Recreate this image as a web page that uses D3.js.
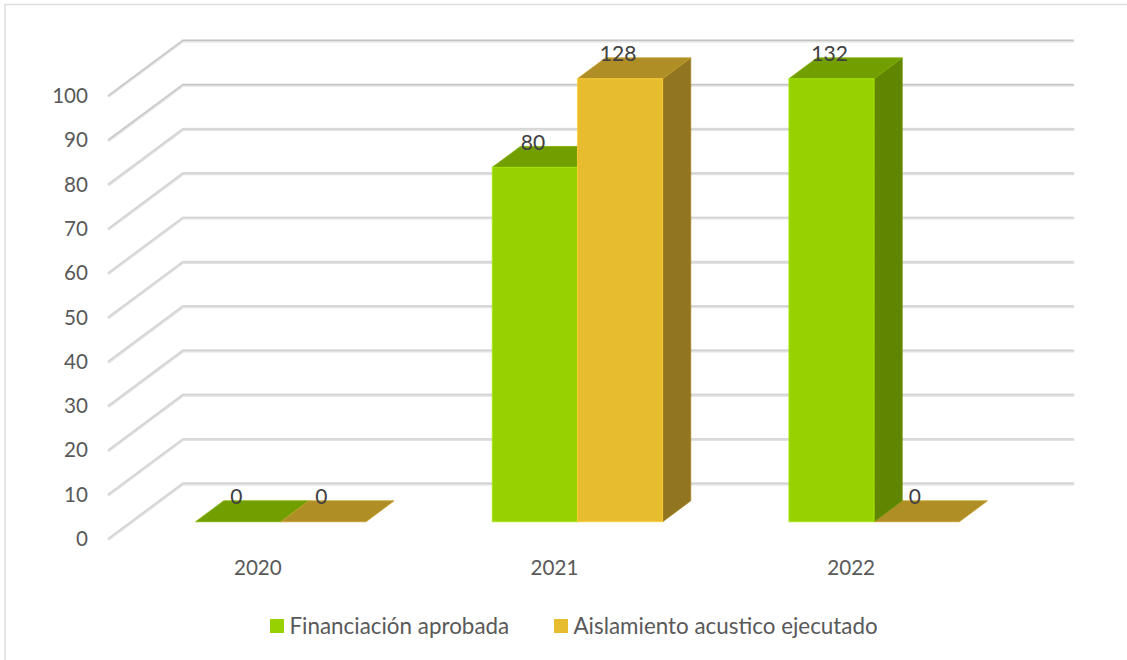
<!DOCTYPE html>
<meta charset="utf-8">
<head>
  <title>Financiacion y aislamiento</title>
</head>

<style>
body { margin: 0; background: #fff; }
text { font-family: Lato, "Open Sans", sans-serif; fill: #595959; }
.grid { fill: none; stroke-linecap: round; }
</style>

<body>
  <svg width="1127" height="660"></svg>

  <script src="https://cdnjs.cloudflare.com/ajax/libs/d3/7.8.5/d3.min.js"></script>

  <script>
var categories = ['2020', '2021', '2022'];
var seriesNames = ['Financiación aprobada', 'Aislamiento acustico ejecutado'];
var financiacion = [0, 80, 132];
var aislamiento = [0, 128, 0];
var yTicks = d3.range(0, 101, 10);

// front, top, side
var greens = ['#97d200', '#729e00', '#608500'];
var golds = ['#e8bc2f', '#b08e26', '#917520'];

var svg = d3.select('svg');

// frame, only top and left are visible in the picture
svg.append('path')
  .attr('d', 'M5,660V4.5H1127')
  .attr('fill', 'none').attr('stroke', '#dedede').attr('stroke-width', 1.5);

// front plane of the chart, depth is added on top of it
var xScale = d3.scaleBand().domain(categories).range([109.5, 999.5]);
var yScale = d3.scaleLinear().domain([0, 100]).range([538.8, 95.8]).clamp(true);
var depthX = d3.scaleLinear().domain([0, 1]).range([0, 74]);
var depthY = d3.scaleLinear().domain([0, 1]).range([0, -55]);
var z0 = 0.31, z1 = 0.69;

function pt(x, y, z) {
  return [x + depthX(z), y + depthY(z)];
}

var lineGen = d3.line();

// gridlines: wall, then a darker edge on top
var grid = svg.append('g');
yTicks.forEach(function(t) {
  var y = yScale(t);
  var path = lineGen([pt(109, y, 0), pt(109, y, 1), [1073, y + depthY(1)]]);
  grid.append('path').attr('class', 'grid').attr('d', path)
    .attr('stroke', '#e2e2e2').attr('stroke-width', 3.2);
  grid.append('path').attr('class', 'grid').attr('d', path)
    .attr('stroke', t >= 90 ? '#c4c4c4' : '#d2d2d2').attr('stroke-width', 1.2)
    .attr('transform', 'translate(0,-0.5)');
});

// y labels
svg.append('g').selectAll('text')
  .data(yTicks)
  .enter()
  .append('text')
  .attr('x', 88)
  .attr('y', function(d) { return yScale(d) - 0.8; })
  .attr('text-anchor', 'end')
  .attr('dominant-baseline', 'central')
  .style('font-size', '20.6px')
  .text(function(d) { return d; });

// x labels
svg.append('g').selectAll('text')
  .data(categories)
  .enter()
  .append('text')
  .attr('x', function(d) { return xScale(d) + xScale.bandwidth() / 2; })
  .attr('y', 567)
  .attr('text-anchor', 'middle')
  .attr('dominant-baseline', 'central')
  .style('font-size', '20.6px')
  .text(function(d) { return d; });

// bars, the two series of a year meet at the middle of its band
var barWidth = 85.2;
var bars = [];
categories.forEach(function(c, i) {
  var x = xScale(c) + xScale.bandwidth() / 2;
  bars.push({ x0: x - barWidth, value: financiacion[i], colors: greens });
  bars.push({ x0: x, value: aislamiento[i], colors: golds });
});

var barG = svg.append('g');

function face(points, color) {
  barG.append('path')
    .attr('d', lineGen(points) + 'Z')
    .attr('fill', color)
    .attr('stroke', d3.color(color).brighter(0.3))
    .attr('stroke-width', 0.8);
}

// zero bars first so tall neighbours sit above them
bars.slice().sort(function(a, b) { return (a.value > 0) - (b.value > 0); }).forEach(function(b) {
  var x0 = b.x0, x1 = b.x0 + barWidth;
  var yb = yScale(0), yt = yScale(b.value);
  if (b.value > 0) {
    face([pt(x1, yb, z0), pt(x1, yb, z1), pt(x1, yt, z1), pt(x1, yt, z0)], b.colors[2]);
    face([pt(x0, yt, z0), pt(x1, yt, z0), pt(x1, yt, z1), pt(x0, yt, z1)], b.colors[1]);
    face([pt(x0, yb, z0), pt(x1, yb, z0), pt(x1, yt, z0), pt(x0, yt, z0)], b.colors[0]);
  } else {
    face([pt(x0, yt, z0), pt(x1, yt, z0), pt(x1, yt, z1), pt(x0, yt, z1)], b.colors[1]);
  }
});

// data labels show the real value even when the bar is cut at 100
svg.append('g').selectAll('text')
  .data(bars)
  .enter()
  .append('text')
  .attr('x', function(d) {
    var p = pt(d.x0 + barWidth / 2, 0, (z0 + z1) / 2);
    return p[0] - 16;
  })
  .attr('y', function(d) { return pt(0, yScale(d.value), z0)[1] - 26; })
  .attr('text-anchor', 'middle')
  .attr('dominant-baseline', 'central')
  .style('font-size', '21px')
  .style('fill', '#404040')
  .text(function(d) { return d.value; });

// legend
var legendX = [270, 554];
var legend = svg.append('g').selectAll('g')
  .data(seriesNames)
  .enter()
  .append('g')
  .attr('transform', function(d, i) { return 'translate(' + legendX[i] + ',0)'; });

legend.append('rect')
  .attr('y', 619).attr('width', 14).attr('height', 14)
  .attr('fill', function(d, i) { return [greens, golds][i][0]; });

legend.append('text')
  .attr('x', 19.5)
  .attr('y', 625)
  .attr('dominant-baseline', 'central')
  .style('font-size', '22.4px')
  .text(function(d) { return d; });
  </script>
</body>
</html>
